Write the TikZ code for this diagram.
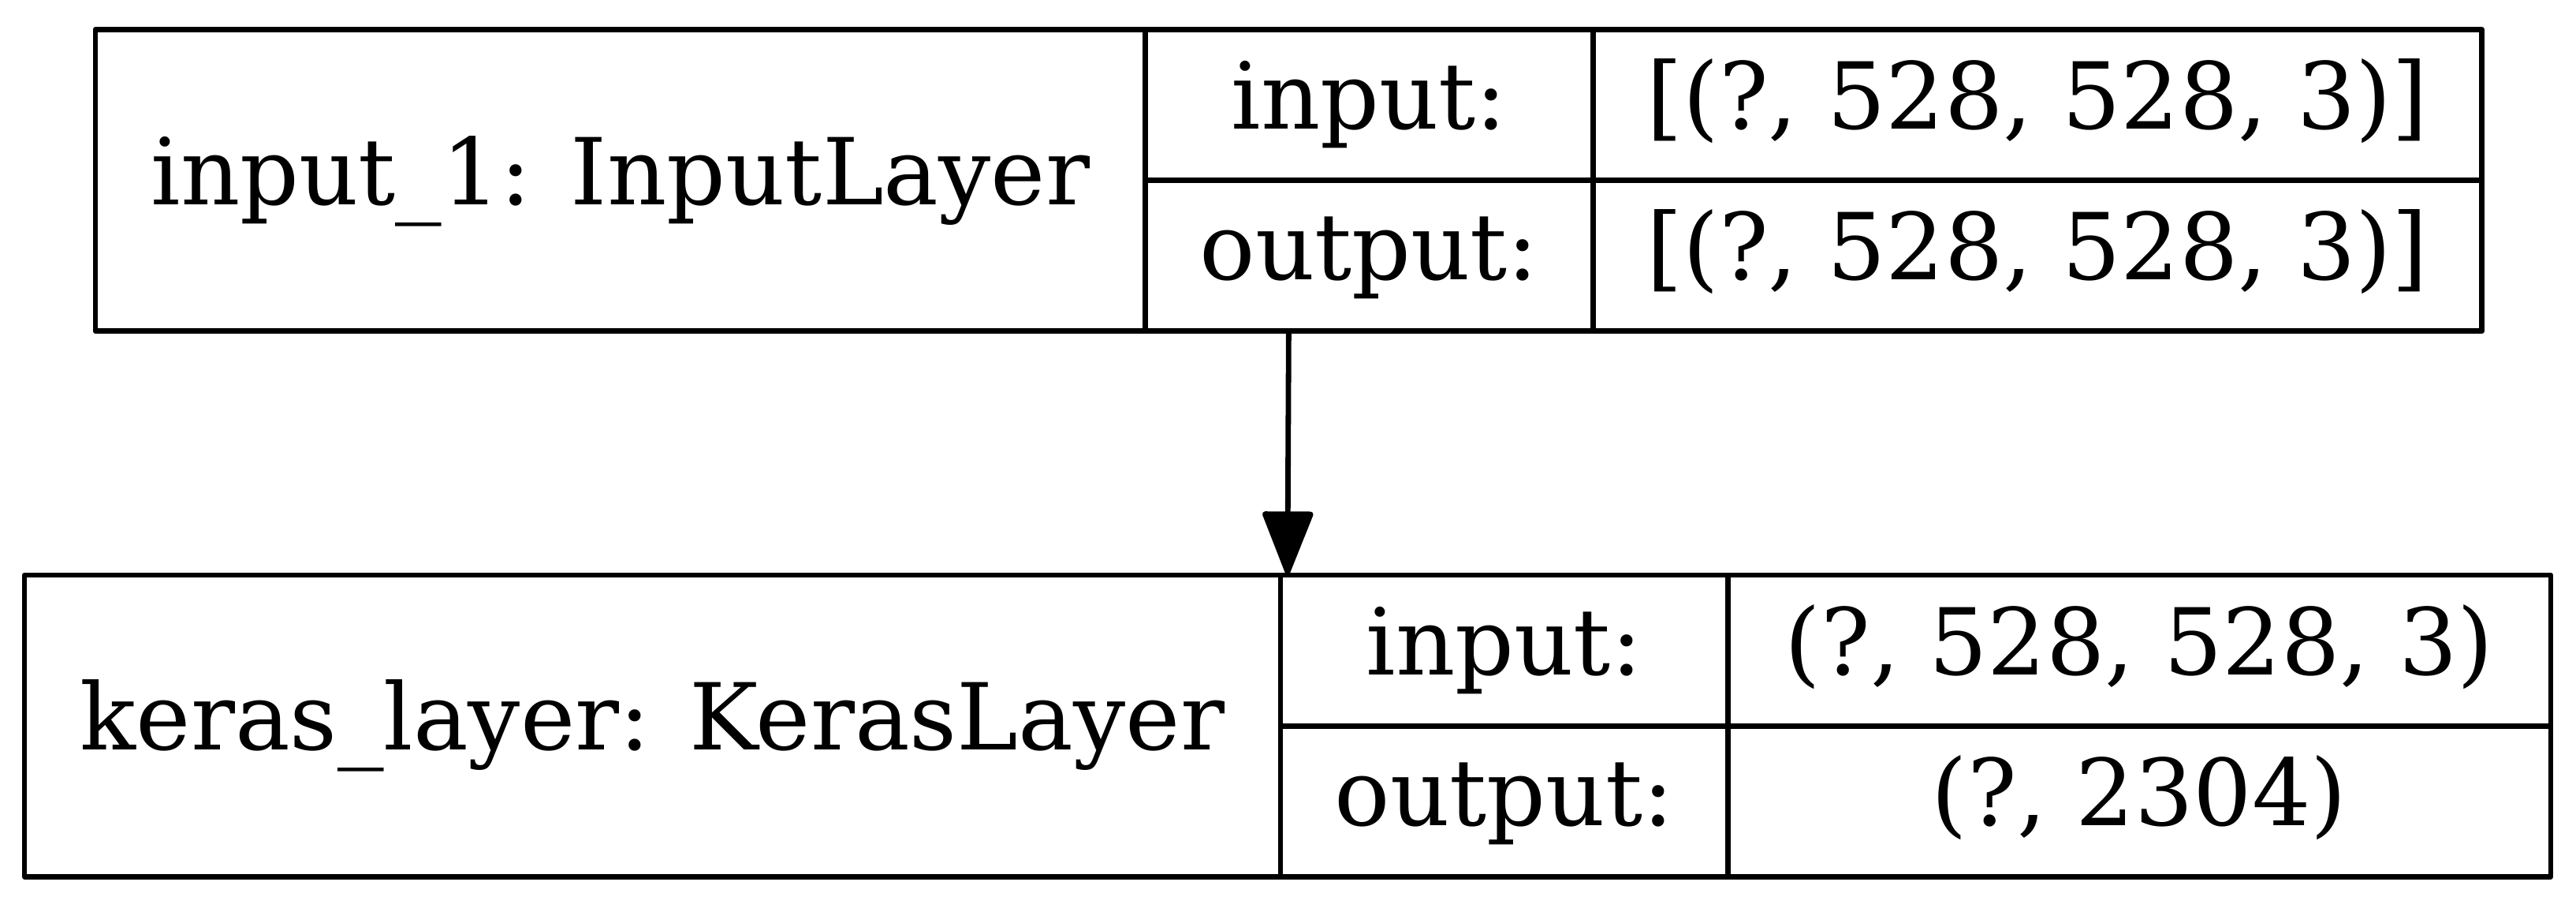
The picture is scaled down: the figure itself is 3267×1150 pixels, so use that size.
\documentclass[tikz,border=0pt]{standalone}
\usepackage{fontspec}
\setmainfont{DejaVu Serif}
\usetikzlibrary{arrows.meta,positioning,fit}

\begin{document}
\begin{tikzpicture}[
  x=0.01cm, y=-0.01cm,
  cell/.style={rectangle, draw, line width=0.068cm, line join=round,
               inner sep=0pt, outer sep=0pt, anchor=north west,
               font=\fontsize{33.3pt}{40pt}\selectfont,
               text height=26pt, text depth=8.6pt},
  namecell/.style={cell, minimum height=3.82cm},
  portcell/.style={cell, minimum width=5.67cm, minimum height=1.91cm},
  valcell/.style={cell, minimum width=#1, minimum height=1.91cm},
  arrow/.style={-{Triangle[length=0.86cm, width=0.66cm, round]}, line width=0.068cm}
]
  \useasboundingbox (0,0) rectangle (3267,1150);

  % input_1 record
  \node[namecell, minimum width=13.31cm] (in1name) at (121,37.5) {input\_1: InputLayer};
  \node[portcell, right=0pt of in1name.north east, anchor=north west] (in1in) {input:};
  \node[portcell, below=0pt of in1in] (in1out) {output:};
  \node[valcell=11.27cm, right=0pt of in1in.north east, anchor=north west] (in1inv) {[(?, 528, 528, 3)]};
  \node[valcell=11.27cm, below=0pt of in1inv] (in1outv) {[(?, 528, 528, 3)]};
  \node[fit=(in1name)(in1inv)(in1outv), inner sep=0pt] (input1) {};

  % keras_layer record
  \node[namecell, minimum width=15.92cm] (kname) at (31,729) {keras\_layer: KerasLayer};
  \node[portcell, right=0pt of kname.north east, anchor=north west] (kin) {input:};
  \node[portcell, below=0pt of kin] (kout) {output:};
  \node[valcell=10.43cm, right=0pt of kin.north east, anchor=north west] (kinv) {(?, 528, 528, 3)};
  \node[valcell=10.43cm, below=0pt of kinv] (koutv) {(?, 2304)};
  \node[fit=(kname)(kinv)(koutv), inner sep=0pt] (keras) {};

  \draw[arrow] (input1.south) -- (keras.north);
\end{tikzpicture}
\end{document}
